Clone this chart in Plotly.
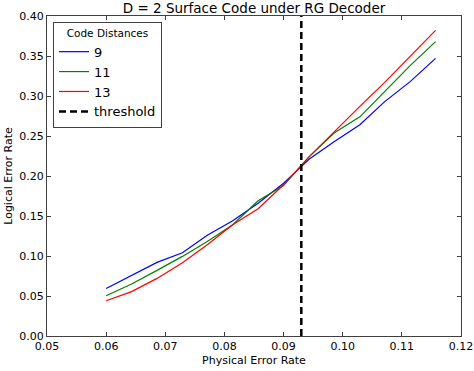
import plotly.graph_objects as go

physical_error_rate = [0.0600, 0.0643, 0.0686, 0.0729, 0.0771, 0.0814, 0.0857,
                       0.0900, 0.0943, 0.0986, 0.1029, 0.1071, 0.1114, 0.1157]
d9 = [0.0594, 0.0755, 0.092, 0.104, 0.126, 0.144, 0.166,
      0.191, 0.221, 0.243, 0.264, 0.293, 0.318, 0.347]
d11 = [0.0504, 0.065, 0.082, 0.0995, 0.118, 0.139, 0.169,
       0.188, 0.224, 0.254, 0.274, 0.306, 0.338, 0.368]
d13 = [0.044, 0.0555, 0.072, 0.0915, 0.114, 0.139, 0.159,
       0.189, 0.224, 0.256, 0.287, 0.317, 0.350, 0.382]
threshold = 0.093
series_names = ["9", "11", "13"]
series_colors = ["#0000ff", "#008000", "#ff0000"]
x_ticks = [0.05, 0.06, 0.07, 0.08, 0.09, 0.10, 0.11, 0.12]
y_ticks = [0.00, 0.05, 0.10, 0.15, 0.20, 0.25, 0.30, 0.35, 0.40]

fig = go.Figure()
for name, ys, col in zip(series_names, [d9, d11, d13], series_colors):
    fig.add_trace(go.Scatter(x=physical_error_rate, y=ys, mode="lines", name=name,
                             line=dict(color=col, width=1.2)))
fig.add_trace(go.Scatter(x=[threshold, threshold], y=[y_ticks[0], y_ticks[-1]], mode="lines",
                         name="threshold", line=dict(color="black", width=2.5, dash="7px,4px")))

font = "DejaVu Sans"
axis_common = dict(showgrid=False, zeroline=False, showline=True, linecolor="#404040",
                   linewidth=1.3, mirror="allticks", ticks="inside", ticklen=4,
                   tickcolor="#404040", tickfont=dict(family=font, size=11, color="black"),
                   tickformat=".2f", automargin=False)
fig.update_layout(
    width=474, height=371,
    margin=dict(l=47, r=13, t=16, b=35),
    paper_bgcolor="white", plot_bgcolor="white",
    title=dict(text="D = 2 Surface Code under RG Decoder", xref="paper", x=0.5, xanchor="center",
               yref="container", y=(371 - 8.5) / 371, yanchor="middle",
               font=dict(family=font, size=13.5, color="black")),
    xaxis=dict(range=[0.05, 0.12], tickvals=x_ticks,
               title=dict(text="Physical Error Rate", font=dict(family=font, size=11, color="black"),
                          standoff=3), **axis_common),
    yaxis=dict(range=[0.0, 0.40], tickvals=y_ticks,
               title=dict(text="Logical Error Rate", font=dict(family=font, size=11, color="black"),
                          standoff=4), **axis_common),
    legend=dict(x=0.0145, y=0.981, xanchor="left", yanchor="top",
                bordercolor="#404040", borderwidth=1, bgcolor="white",
                font=dict(family=font, size=13, color="black"),
                title=dict(text="Code Distances", side="top center",
                           font=dict(family=font, size=10.5, color="black")),
                tracegroupgap=0, itemwidth=30),
    showlegend=True,
)
fig.write_html("out.html", config={"displayModeBar": False},
               post_script="document.body.style.margin='0';document.body.style.overflow='hidden';")
